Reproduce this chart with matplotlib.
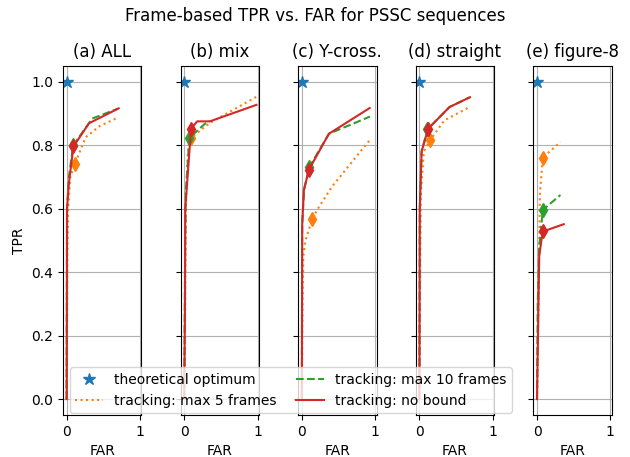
import matplotlib
matplotlib.use('Agg')
import matplotlib.pyplot as plt

# panel titles
titles = ['(a) ALL', '(b) mix', '(c) Y-cross.', '(d) straight', '(e) figure-8']

# (FAR, TPR) curves per panel
far_5 = [
    [0.0, 0.01, 0.02, 0.05, 0.11, 0.26, 0.45, 0.71],
    [0.0, 0.01, 0.02, 0.05, 0.09, 0.35, 0.99],
    [0.0, 0.01, 0.02, 0.05, 0.14, 0.22, 0.41, 0.93],
    [0.0, 0.01, 0.02, 0.06, 0.15, 0.34, 0.70],
    [0.0, 0.02, 0.04, 0.08, 0.32],
]
tpr_5 = [
    [0.0, 0.45, 0.6, 0.70, 0.74, 0.825, 0.86, 0.888],
    [0.0, 0.2, 0.6, 0.78, 0.823, 0.87, 0.953],
    [0.0, 0.3, 0.45, 0.50, 0.566, 0.60, 0.669, 0.817],
    [0.0, 0.4, 0.65, 0.78, 0.817, 0.878, 0.922],
    [0.0, 0.3, 0.65, 0.761, 0.81],
]
far_10 = [
    [0.0, 0.005, 0.03, 0.09, 0.35, 0.70],
    [0.0, 0.01, 0.02, 0.07, 0.28, 0.35],
    [0.0, 0.005, 0.03, 0.10, 0.37, 0.93],
    [0.0, 0.005, 0.03, 0.11, 0.41, 0.69],
    [0.0, 0.01, 0.03, 0.08, 0.32],
]
tpr_10 = [
    [0.0, 0.6, 0.70, 0.80, 0.884, 0.915],
    [0.0, 0.4, 0.65, 0.823, 0.867, 0.876],
    [0.0, 0.55, 0.66, 0.73, 0.836, 0.89],
    [0.0, 0.6, 0.78, 0.85, 0.92, 0.951],
    [0.0, 0.3, 0.48, 0.596, 0.643],
]
far_nb = [
    [0.0, 0.005, 0.03, 0.093, 0.305, 0.71],
    [0.0, 0.01, 0.014, 0.093, 0.177, 0.35, 0.986],
    [0.0, 0.005, 0.028, 0.097, 0.37, 0.926],
    [0.0, 0.005, 0.03, 0.12, 0.41, 0.69],
    [0.0, 0.03, 0.06, 0.08, 0.365],
]
tpr_nb = [
    [0.0, 0.6, 0.68, 0.796, 0.869, 0.916],
    [0.0, 0.3, 0.6, 0.852, 0.875, 0.875, 0.927],
    [0.0, 0.55, 0.658, 0.723, 0.836, 0.917],
    [0.0, 0.6, 0.78, 0.852, 0.92, 0.951],
    [0.0, 0.45, 0.50, 0.528, 0.551],
]
# index of the highlighted operating point on each curve
mark_5 = [4, 4, 4, 4, 3]
mark_10 = [3, 3, 3, 3, 3]
mark_nb = [3, 3, 3, 3, 3]

fig, axes = plt.subplots(1, 5, sharey=True, figsize=(6.3, 4.57), dpi=100)
fig.subplots_adjust(left=0.1, right=0.971, top=0.856, bottom=0.092, wspace=0.5)
fig.suptitle('Frame-based TPR vs. FAR for PSSC sequences', fontsize=12, y=0.985)

curves = [
    (far_5, tpr_5, mark_5, ':', 'C1', 'tracking: max 5 frames'),
    (far_10, tpr_10, mark_10, '--', 'C2', 'tracking: max 10 frames'),
    (far_nb, tpr_nb, mark_nb, '-', 'C3', 'tracking: no bound'),
]

for i, ax in enumerate(axes):
    ax.plot([0], [1], '*', color='C0', markersize=9, label='theoretical optimum')
    for far, tpr, mk, ls, col, lab in curves:
        ax.plot(far[i], tpr[i], ls, color=col, label=lab)
        ax.plot(far[i][mk[i]], tpr[i][mk[i]], 'd', color=col, markersize=7.5)
    ax.set_title(titles[i], fontsize=12)
    ax.set_xlim(-0.05, 1.02)
    ax.set_ylim(-0.05, 1.05)
    ax.set_xticks([0, 1])
    ax.set_xlabel('FAR')
    ax.grid(True)

axes[0].set_ylabel('TPR')

handles, labels = axes[0].get_legend_handles_labels()
fig.legend(handles, labels, loc='lower left', bbox_to_anchor=(0.111, 0.096),
           ncol=2, borderaxespad=0, columnspacing=1.4)

fig.savefig('out.png', dpi=100)
